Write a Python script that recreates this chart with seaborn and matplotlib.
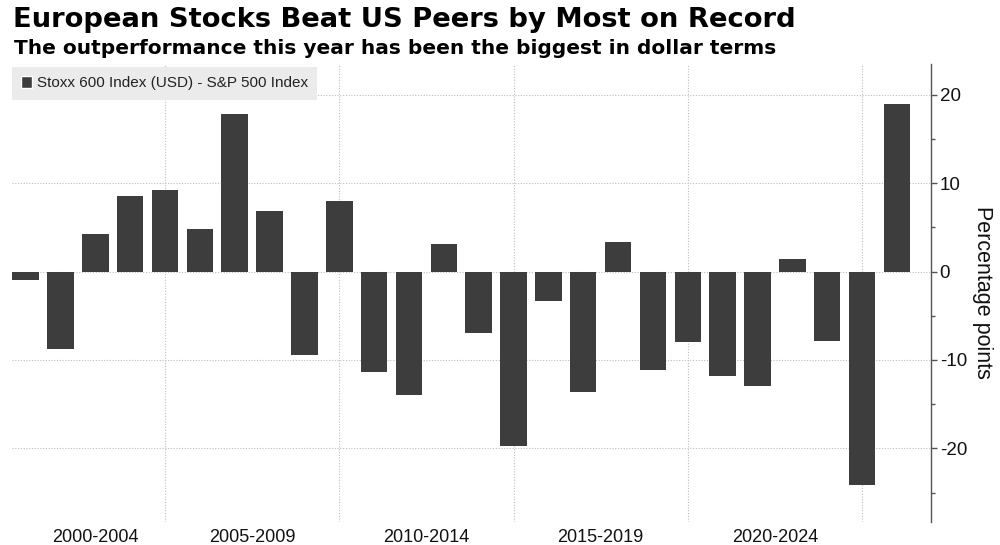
import matplotlib
matplotlib.use("Agg")
import matplotlib.pyplot as plt
from matplotlib.patches import Patch
from matplotlib.ticker import FixedLocator
import pandas as pd
import seaborn as sns

# yearly gap: Stoxx 600 (USD) minus S&P 500, percentage points
years = [str(y) for y in range(2000, 2026)]
spread = [-1.0, -8.8, 4.3, 8.6, 9.2, 4.8, 17.8, 6.9, -9.4, 8.0,
          -11.4, -14.0, 3.1, -6.9, -19.7, -3.3, -13.6, 3.4, -11.1, -8.0,
          -11.8, -13.0, 1.4, -7.8, -24.2, 19.0]
period_labels = ['2000-2004', '2005-2009', '2010-2014', '2015-2019', '2020-2024']
period_pos = [2, 6.5, 11.5, 16.5, 21.5]
divider_pos = [4, 9, 14, 19, 24]
y_major = [-20, -10, 0, 10, 20]
y_minor = [-25, -15, -5, 5, 15]

title = 'European Stocks Beat US Peers by Most on Record'
subtitle = 'The outperformance this year has been the biggest in dollar terms'
series_name = 'Stoxx 600 Index (USD) - S&P 500 Index'

df = pd.DataFrame({'year': years, 'spread': spread})

sns.set_style('white')
plt.rcParams['axes.unicode_minus'] = False
plt.rcParams['font.family'] = ['Liberation Sans', 'DejaVu Sans']

bar_color = '#3d3d3d'
grid_color = '#bdbdbd'

fig = plt.figure(figsize=(10, 5.45), dpi=100)
ax = fig.add_axes([0.0117, 0.0428, 0.919, 0.8398])

sns.barplot(data=df, x='year', y='spread', color=bar_color, saturation=1,
            width=0.76, edgecolor='none', ax=ax)

ax.set_xlim(-0.4, 25.97)
ax.set_ylim(-28.3, 23.5)

for side in ['top', 'left', 'bottom']:
    ax.spines[side].set_visible(False)
ax.spines['right'].set_color('#555555')
ax.spines['right'].set_linewidth(1)

ax.yaxis.tick_right()
ax.yaxis.set_label_position('right')
ax.set_yticks(y_major)
ax.yaxis.set_minor_locator(FixedLocator(y_minor))
ax.tick_params(axis='y', which='major', length=4, width=1, color='#555555',
               pad=2.5, labelsize=13.5, labelcolor='#111111')
ax.tick_params(axis='y', which='minor', length=3, width=1, color='#555555')

ax.set_xticks(period_pos)
ax.set_xticklabels(period_labels)
ax.xaxis.set_minor_locator(FixedLocator(divider_pos))
ax.tick_params(axis='x', which='both', length=0, pad=5.5, labelsize=13,
               labelcolor='#111111')

ax.grid(False)
ax.grid(axis='y', which='major', color=grid_color, linestyle=(0, (1, 1.5)), linewidth=0.8)
ax.grid(axis='x', which='minor', color=grid_color, linestyle=(0, (1, 1.5)), linewidth=0.8)
ax.set_axisbelow(True)

ax.set_xlabel('')
ax.set_ylabel('Percentage points', rotation=270, fontsize=15.5, labelpad=3.5,
              color='#111111', va='bottom')

leg = ax.legend(handles=[Patch(facecolor=bar_color, label=series_name)],
                loc='upper left', bbox_to_anchor=(0.0, 0.993), frameon=True,
                facecolor='#ebebeb', edgecolor='none', fancybox=False,
                framealpha=1, fontsize=11, handlelength=0.75, handleheight=0.75,
                handletextpad=0.3, borderpad=0.6, borderaxespad=0.0)
for t in leg.get_texts():
    t.set_color('#222222')

fig.text(0.013, 1 - 27 / 545, title, fontsize=19.75, fontweight='bold',
         family='DejaVu Sans', va='baseline', color='#000000')
fig.text(0.014, 1 - 53.5 / 545, subtitle, fontsize=14.5, fontweight='bold',
         family='DejaVu Sans', va='baseline', color='#000000')

fig.savefig('out.png', dpi=100, facecolor='white')
